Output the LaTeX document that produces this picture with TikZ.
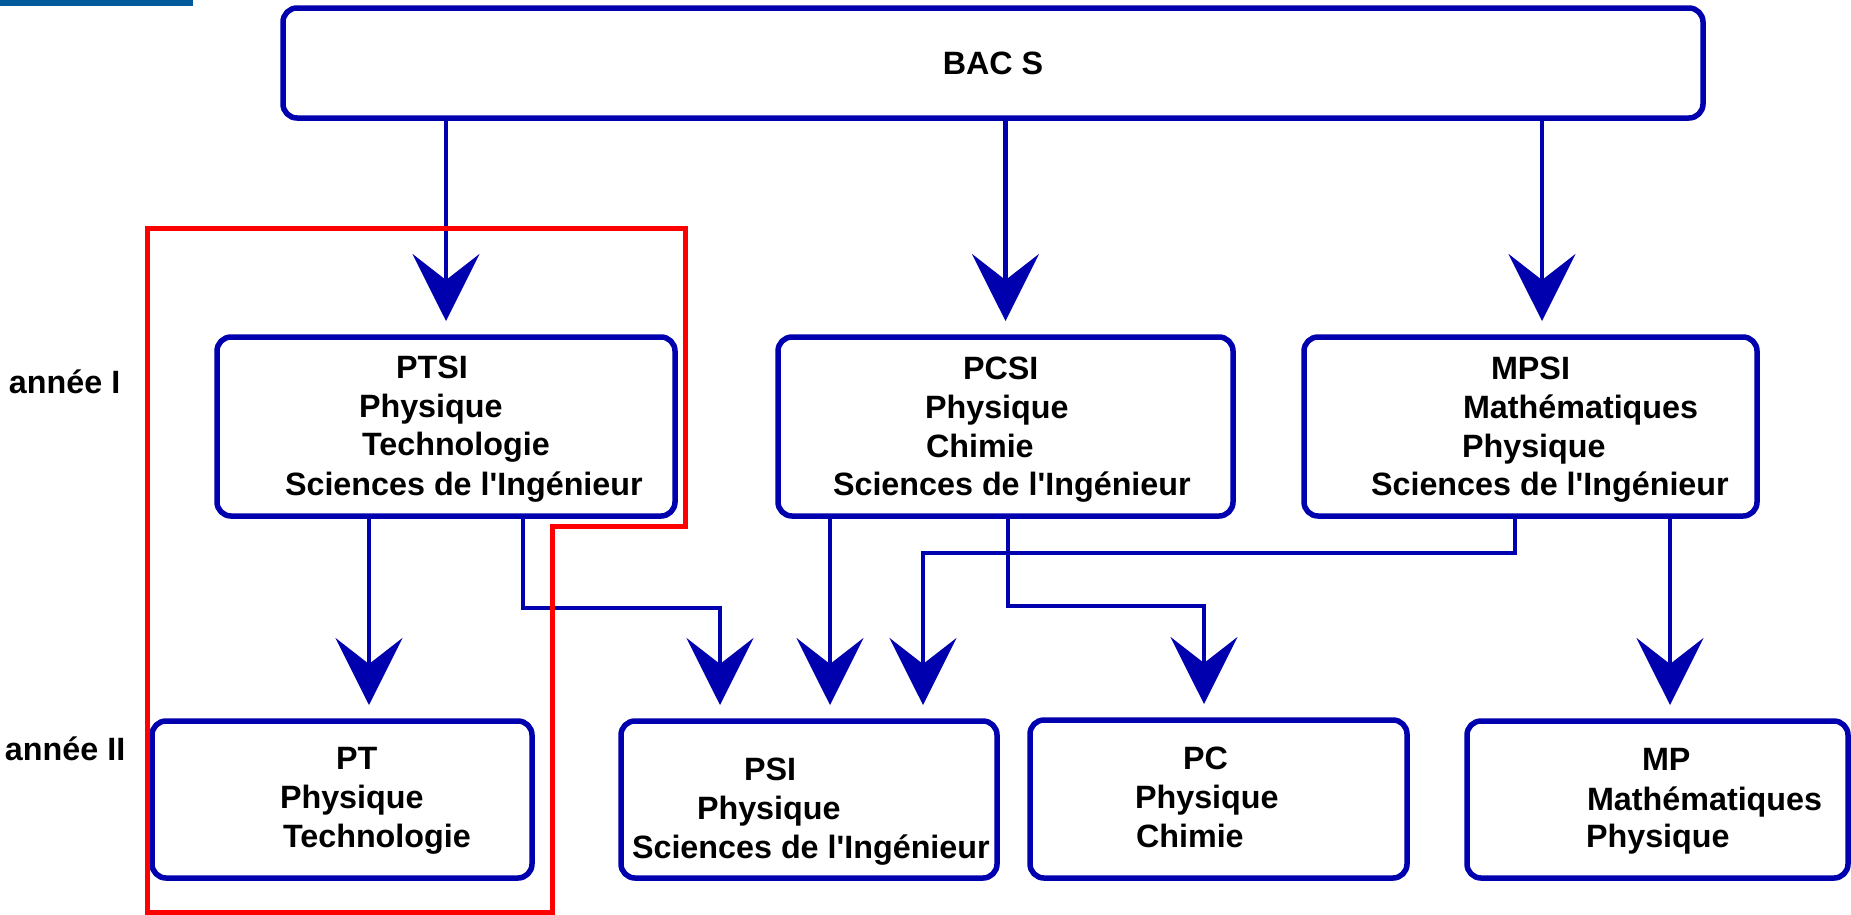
\documentclass[tikz,border=0pt]{standalone}
\usepackage{fontspec}
\setmainfont{Liberation Sans}[Ligatures=TeXOff]
\usetikzlibrary{arrows.meta}
\definecolor{navy}{RGB}{0,0,175}
\definecolor{barblue}{RGB}{0,90,155}
\definecolor{frame}{RGB}{255,0,0}
\begin{document}
\begin{tikzpicture}[x=1pt,y=-1pt,
  box/.style={draw=navy, line width=5.5pt, rounded corners=14pt, inner sep=0pt, outer sep=0pt, fill=white},
  lbl/.style={anchor=base west, inner sep=0pt, outer sep=0pt, font=\fontsize{32.3}{38}\selectfont\bfseries},
  conn/.style={draw=navy, line width=4.5pt},
  arr/.style={conn, -{Stealth[length=67pt,width=67pt,inset=26pt]}, shorten >=16pt},
]
\useasboundingbox (0,0) rectangle (1851,914);
\fill[barblue] (0,0) rectangle (193,6);

% boxes
\node[box, minimum width=1420pt, minimum height=110pt] (bac) at (993,63) {};
\node[box, minimum width=458pt, minimum height=179pt] (ptsi) at (446,426.5) {};
\node[box, minimum width=455pt, minimum height=179pt] (pcsi) at (1005.5,426.5) {};
\node[box, minimum width=453pt, minimum height=179pt] (mpsi) at (1530.5,426.5) {};
\node[box, minimum width=380pt, minimum height=157pt] (pt) at (342,799.5) {};
\node[box, minimum width=376pt, minimum height=157pt] (psi) at (809,799.5) {};
\node[box, minimum width=377pt, minimum height=158pt] (pc) at (1218.5,799) {};
\node[box, minimum width=381pt, minimum height=157pt] (mp) at (1657.5,799.5) {};

% texts
\node[lbl, anchor=base] (tbac) at (993,74) {BAC S};
\node[lbl] (t11) at (396,378) {PTSI};
\node[lbl] (t12) at (359,417) {Physique};
\node[lbl] (t13) at (362,455) {Technologie};
\node[lbl] (t14) at (285,495) {Sciences de l'Ingénieur};
\node[lbl] (t21) at (963,379) {PCSI};
\node[lbl] (t22) at (925,418) {Physique};
\node[lbl] (t23) at (926,457) {Chimie};
\node[lbl] (t24) at (833,495) {Sciences de l'Ingénieur};
\node[lbl] (t31) at (1491,379) {MPSI};
\node[lbl] (t32) at (1463,418) {Mathématiques};
\node[lbl] (t33) at (1462,457) {Physique};
\node[lbl] (t34) at (1371,495) {Sciences de l'Ingénieur};
\node[lbl] (t41) at (336,769) {PT};
\node[lbl] (t42) at (280,808) {Physique};
\node[lbl] (t43) at (283,847) {Technologie};
\node[lbl] (t51) at (744,780) {PSI};
\node[lbl] (t52) at (697,819) {Physique};
\node[lbl] (t53) at (632,858) {Sciences de l'Ingénieur};
\node[lbl] (t61) at (1183,769) {PC};
\node[lbl] (t62) at (1135,808) {Physique};
\node[lbl] (t63) at (1136,847) {Chimie};
\node[lbl] (t71) at (1642,770) {MP};
\node[lbl] (t72) at (1587,810) {Mathématiques};
\node[lbl] (t73) at (1586,847) {Physique};
\node[lbl] (ya) at (9,393) {année I};
\node[lbl] (yb) at (5,760) {année II};

% helper coordinates
\coordinate (xm) at (1542,0);
\coordinate (x1) at (369,0);
\coordinate (k1) at (523,608);
\coordinate (k2) at (720,608);
\coordinate (x2) at (830,0);
\coordinate (k3) at (1515,553);
\coordinate (k4) at (923,553);
\coordinate (k5) at (1008,606);
\coordinate (k6) at (1204,606);
\coordinate (x3) at (1670,0);

% connectors
\draw[arr] (bac.south -| ptsi.north) -- (ptsi.north);
\draw[arr] (bac.south -| pcsi.north) -- (pcsi.north);
\draw[arr] (bac.south -| xm) -- (mpsi.north -| xm);
\draw[arr] (ptsi.south -| x1) -- (pt.north -| x1);
\draw[arr] (ptsi.south -| k1) -- (k1) -- (k2) -- (psi.north -| k2);
\draw[arr] (pcsi.south -| x2) -- (psi.north -| x2);
\draw[arr] (mpsi.south -| k3) -- (k3) -- (k4) -- (psi.north -| k4);
\draw[arr] (pcsi.south -| k5) -- (k5) -- (k6) -- (pc.north -| k6);
\draw[arr] (mpsi.south -| x3) -- (mp.north -| x3);

% red frame
\draw[frame, line width=5pt] (147,912) -- (147,228) -- (685,228) -- (685,526) -- (552,526) -- (552,912) -- cycle;
\end{tikzpicture}
\end{document}
